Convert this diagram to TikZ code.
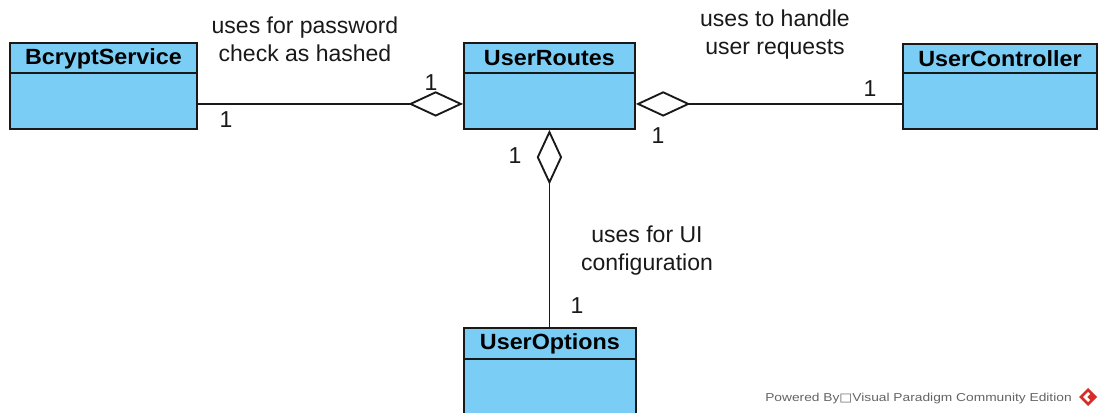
\documentclass[tikz,border=0pt]{standalone}
\usepackage{fontspec}
\setmainfont{Liberation Sans}
\newfontfamily\titlefont[FakeStretch=1.06]{Liberation Sans}
\newfontfamily\symfont{DejaVu Sans}
\usetikzlibrary{arrows.meta,calc}
\definecolor{classfill}{RGB}{122,206,245}
\definecolor{ink}{RGB}{25,25,25}
\definecolor{vpred}{RGB}{215,45,40}
\definecolor{wmgray}{RGB}{100,100,100}
\begin{document}
\begin{tikzpicture}[x=0.75pt,y=-0.75pt,
  classbox/.style={rectangle, draw=ink, fill=classfill, line width=1.4pt,
    inner sep=0pt, anchor=north west},
  classname/.style={font=\titlefont\fontsize{16.5}{19}\selectfont\bfseries, text=black, inner sep=0pt},
  lbl/.style={font=\fontsize{17.25}{21}\selectfont, text=ink, align=center,
    inner sep=0pt, anchor=base},
  mult/.style={font=\fontsize{17.25}{21}\selectfont, text=ink, inner sep=0pt, anchor=base},
  agg/.style={draw=ink, line width=1.4pt,
    {Diamond[fill=white,length=41pt,width=19pt]}-},
  compartment/.style={draw=ink, line width=1.4pt},
]
\useasboundingbox (0,0) rectangle (1099,412);
\fill[white] (0,0) rectangle (1099,412);

% classes
\node[classbox, minimum width=140.25pt, minimum height=64.5pt] (bcrypt) at (9,42) {};
\node[classbox, minimum width=128.25pt, minimum height=64.5pt] (routes) at (463,42) {};
\node[classbox, minimum width=145.5pt, minimum height=63.75pt] (controller) at (902,43) {};
\node[classbox, minimum width=129pt, minimum height=71.25pt] (options) at (463,327) {};

% name compartments
\draw[compartment] ($(bcrypt.north west)+(0,31)$) -- ($(bcrypt.north east)+(0,31)$);
\draw[compartment] ($(routes.north west)+(0,31)$) -- ($(routes.north east)+(0,31)$);
\draw[compartment] ($(controller.north west)+(0,30)$) -- ($(controller.north east)+(0,30)$);
\draw[compartment] ($(options.north west)+(0,32)$) -- ($(options.north east)+(0,32)$);

\node[classname] (bcryptname) at ($(bcrypt.north)+(0,16.5)$) {BcryptService};
\node[classname] (routesname) at ($(routes.north)+(0,16.5)$) {UserRoutes};
\node[classname] (controllername) at ($(controller.north)+(0,16)$) {UserController};
\node[classname] (optionsname) at ($(options.north)+(0,17)$) {UserOptions};

% aggregations
\draw[agg] ($(routes.west)+(0,18)$) -- ($(bcrypt.east)+(0,18)$);
\draw[agg] ($(routes.east)+(0,18)$) -- ($(controller.west)+(0,17.5)$);
\draw[agg] (routes.south) -- (routes.south |- options.north);

% association labels (base = last line)
\node[lbl] (l1) at (305,61) {uses for password\\check as hashed};
\node[lbl] (l2) at (775,54) {uses to handle\\user requests};
\node[lbl] (l3) at (647,270) {uses for UI\\configuration};

% multiplicities
\node[mult] (m1) at (226,127) {1};
\node[mult] (m2) at (431,90) {1};
\node[mult] (m3) at (870,96) {1};
\node[mult] (m4) at (658,143) {1};
\node[mult] (m5) at (515,163) {1};
\node[mult] (m6) at (577,313) {1};

% footer
\node[anchor=base west, inner sep=0pt, text=wmgray] (wm) at (765,401)
  {\scalebox{1.2}[1]{\fontsize{8.6}{10}\selectfont Powered By{\symfont □}Visual Paradigm Community Edition}};
\fill[vpred] (1088,388) -- (1097,397) -- (1088,406) -- (1079,397) -- cycle;
\fill[white] (1083,397) -- (1088,392) -- (1090,394) -- (1087,397) -- (1090,400) -- (1088,402) -- cycle;
\end{tikzpicture}
\end{document}
